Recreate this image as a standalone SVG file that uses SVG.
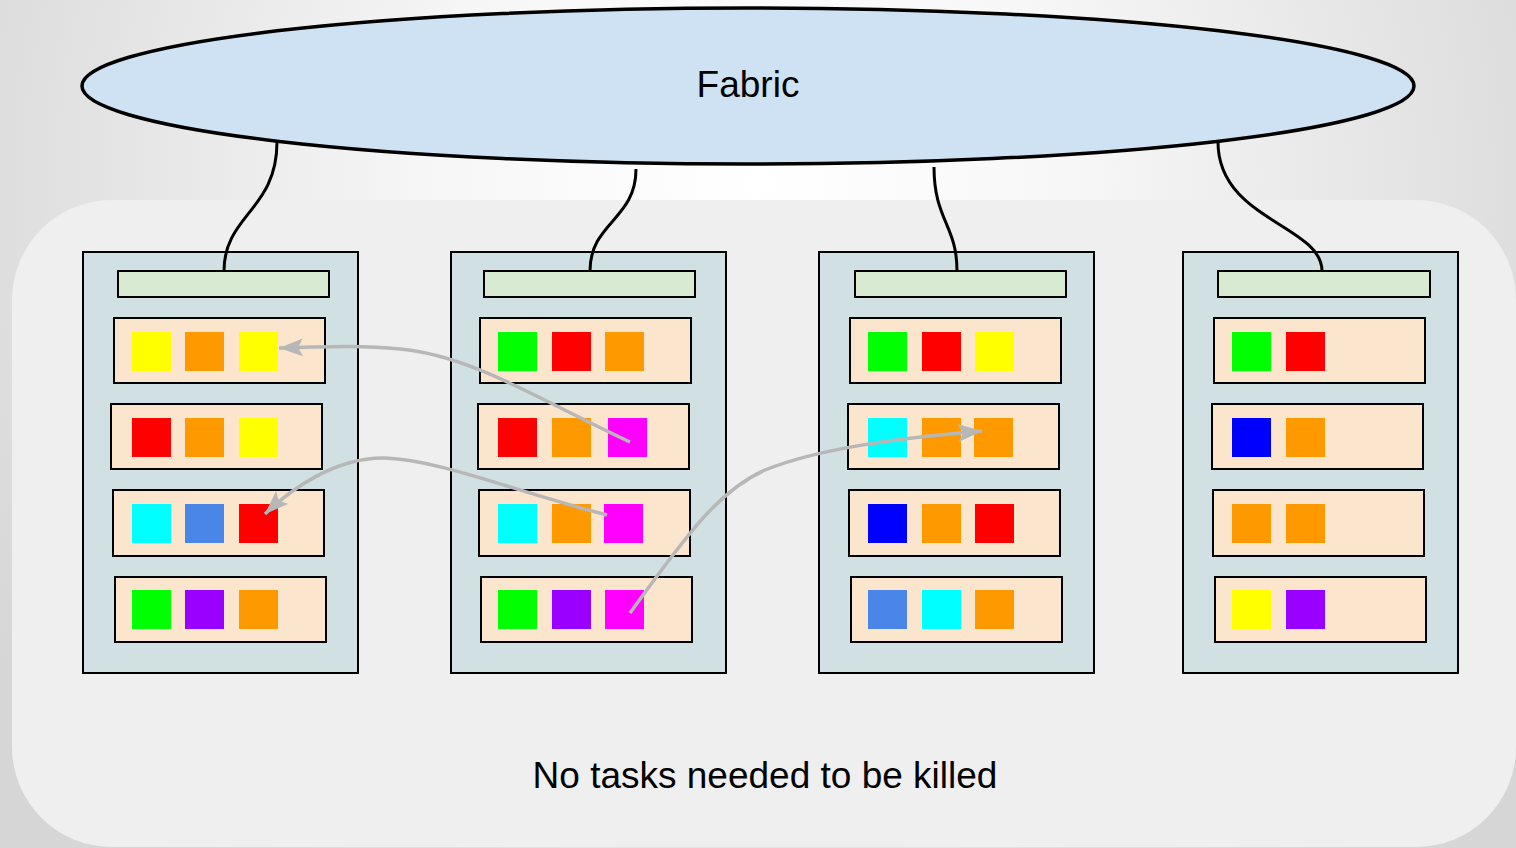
<svg xmlns="http://www.w3.org/2000/svg" width="1516" height="848" viewBox="0 0 1516 848">
<defs>
<radialGradient id="bg" gradientUnits="userSpaceOnUse" cx="758" cy="180" r="900" fx="758" fy="180">
<stop offset="0" stop-color="#ffffff"/>
<stop offset="0.35" stop-color="#f7f7f7"/>
<stop offset="1" stop-color="#d6d6d6"/>
</radialGradient>
<marker id="ah" markerUnits="userSpaceOnUse" markerWidth="26" markerHeight="20" refX="24" refY="9" orient="auto">
<path d="M0,0 L24,9 L0,18 L5,9 Z" fill="#b7b7b7"/>
</marker>
<style>
.srv{fill:#d0e0e3;stroke:#000;stroke-width:2}
.hdr{fill:#d9ead3;stroke:#000;stroke-width:2}
.row{fill:#fce5cd;stroke:#000;stroke-width:2}
.link{fill:none;stroke:#000;stroke-width:3}
.mv{fill:none;stroke:#b7b7b7;stroke-width:3.5}
.lbl{font-family:"Liberation Sans",Arial,sans-serif;font-size:37px;fill:#000}
.Y{fill:#ffff00}.O{fill:#ff9900}.R{fill:#ff0000}.G{fill:#00ff00}.M{fill:#ff00ff}.C{fill:#00ffff}.B{fill:#0000ff}.L{fill:#4a86e8}.P{fill:#9900ff}
</style>
</defs>
<rect x="0" y="0" width="1516" height="848" fill="url(#bg)"/>
<rect x="12" y="200" width="1504" height="647" rx="100" ry="100" fill="#efefef"/>

<g id="fabric">
<ellipse cx="748" cy="86" rx="666" ry="78" fill="#cfe2f3" stroke="#000" stroke-width="3.5"/>
<text class="lbl" x="748" y="97" text-anchor="middle">Fabric</text>
</g>

<g id="server1">
<rect class="srv" x="83" y="252" width="275" height="421"/>
<rect class="hdr" x="118" y="271" width="211" height="26"/>
<rect class="row" x="114" y="318" width="211" height="65"/>
<rect class="Y" x="132" y="332" width="39" height="39"/><rect class="O" x="185" y="332" width="39" height="39"/><rect class="Y" x="239" y="332" width="39" height="39"/>
<rect class="row" x="111" y="404" width="211" height="65"/>
<rect class="R" x="132" y="418" width="39" height="39"/><rect class="O" x="185" y="418" width="39" height="39"/><rect class="Y" x="239" y="418" width="39" height="39"/>
<rect class="row" x="113" y="490" width="211" height="66"/>
<rect class="C" x="132" y="504" width="39" height="39"/><rect class="L" x="185" y="504" width="39" height="39"/><rect class="R" x="239" y="504" width="39" height="39"/>
<rect class="row" x="115" y="577" width="211" height="65"/>
<rect class="G" x="132" y="590" width="39" height="39"/><rect class="P" x="185" y="590" width="39" height="39"/><rect class="O" x="239" y="590" width="39" height="39"/>
</g>

<g id="server2">
<rect class="srv" x="451" y="252" width="275" height="421"/>
<rect class="hdr" x="484" y="271" width="211" height="26"/>
<rect class="row" x="480" y="318" width="211" height="65"/>
<rect class="G" x="498" y="332" width="39" height="39"/><rect class="R" x="552" y="332" width="39" height="39"/><rect class="O" x="605" y="332" width="39" height="39"/>
<rect class="row" x="478" y="404" width="211" height="65"/>
<rect class="R" x="498" y="418" width="39" height="39"/><rect class="O" x="552" y="418" width="39" height="39"/><rect class="M" x="608" y="418" width="39" height="39"/>
<rect class="row" x="479" y="490" width="211" height="66"/>
<rect class="C" x="498" y="504" width="39" height="39"/><rect class="O" x="552" y="504" width="39" height="39"/><rect class="M" x="604" y="504" width="39" height="39"/>
<rect class="row" x="481" y="577" width="211" height="65"/>
<rect class="G" x="498" y="590" width="39" height="39"/><rect class="P" x="552" y="590" width="39" height="39"/><rect class="M" x="605" y="590" width="39" height="39"/>
</g>

<g id="server3">
<rect class="srv" x="819" y="252" width="275" height="421"/>
<rect class="hdr" x="855" y="271" width="211" height="26"/>
<rect class="row" x="850" y="318" width="211" height="65"/>
<rect class="G" x="868" y="332" width="39" height="39"/><rect class="R" x="922" y="332" width="39" height="39"/><rect class="Y" x="975" y="332" width="39" height="39"/>
<rect class="row" x="848" y="404" width="211" height="65"/>
<rect class="C" x="868" y="418" width="39" height="39"/><rect class="O" x="922" y="418" width="39" height="39"/><rect class="O" x="974" y="418" width="39" height="39"/>
<rect class="row" x="849" y="490" width="211" height="66"/>
<rect class="B" x="868" y="504" width="39" height="39"/><rect class="O" x="922" y="504" width="39" height="39"/><rect class="R" x="975" y="504" width="39" height="39"/>
<rect class="row" x="851" y="577" width="211" height="65"/>
<rect class="L" x="868" y="590" width="39" height="39"/><rect class="C" x="922" y="590" width="39" height="39"/><rect class="O" x="975" y="590" width="39" height="39"/>
</g>

<g id="server4">
<rect class="srv" x="1183" y="252" width="275" height="421"/>
<rect class="hdr" x="1218" y="271" width="212" height="26"/>
<rect class="row" x="1214" y="318" width="211" height="65"/>
<rect class="G" x="1232" y="332" width="39" height="39"/><rect class="R" x="1286" y="332" width="39" height="39"/>
<rect class="row" x="1212" y="404" width="211" height="65"/>
<rect class="B" x="1232" y="418" width="39" height="39"/><rect class="O" x="1286" y="418" width="39" height="39"/>
<rect class="row" x="1213" y="490" width="211" height="66"/>
<rect class="O" x="1232" y="504" width="39" height="39"/><rect class="O" x="1286" y="504" width="39" height="39"/>
<rect class="row" x="1215" y="577" width="211" height="65"/>
<rect class="Y" x="1232" y="590" width="39" height="39"/><rect class="P" x="1286" y="590" width="39" height="39"/>
</g>

<g id="connectors">
<path class="link" d="M277,142 C277,210 224,215 224,271"/>
<path class="link" d="M636,169 C636,220 590,222 590,271"/>
<path class="link" d="M934,167 C934,220 957,225 957,271"/>
<path class="link" d="M1218,142 C1218,220 1322,225 1322,271"/>
<path class="mv" marker-end="url(#ah)" d="M630,442 C540,400 470,355 400,349 C360,345 320,347 279,348"/>
<path class="mv" marker-end="url(#ah)" d="M607,515 C510,490 440,460 385,458 C335,457 290,490 265,514"/>
<path class="mv" marker-end="url(#ah)" d="M630,613 C690,530 720,490 765,470 C820,448 900,438 982,431"/>
</g>

<text class="lbl" x="765" y="788" text-anchor="middle">No tasks needed to be killed</text>
</svg>
